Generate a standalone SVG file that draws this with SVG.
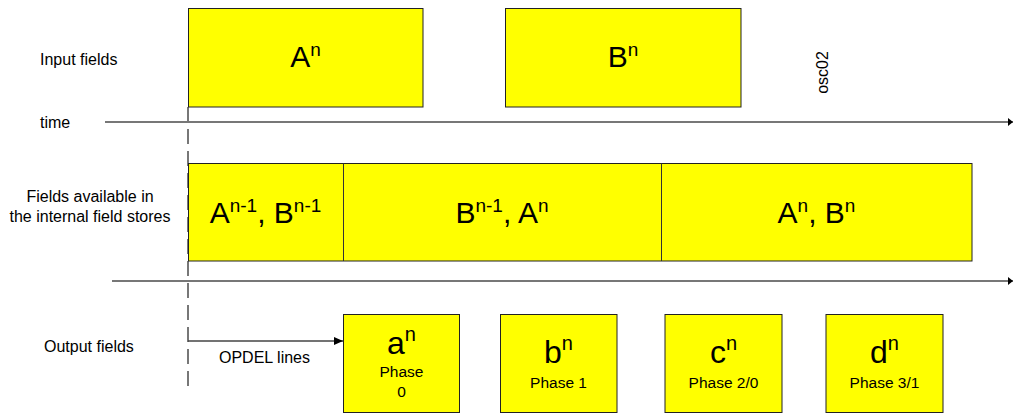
<svg xmlns="http://www.w3.org/2000/svg" width="1013" height="413" viewBox="0 0 1013 413">
<style>
.box{fill:#ffff00;stroke:#222;stroke-width:1}
.lbl{font-family:"Liberation Sans",Arial,sans-serif;font-size:16px;fill:#000}
.big{font-family:"Liberation Sans",Arial,sans-serif;font-size:30px;fill:#000;text-anchor:middle}
.out{font-family:"Liberation Sans",Arial,sans-serif;font-size:32px;fill:#000;text-anchor:middle}
.ph{font-family:"Liberation Sans",Arial,sans-serif;font-size:15.5px;fill:#000;text-anchor:middle}
.axis{stroke:#777;stroke-width:2;fill:none}
.div{stroke:#333;stroke-width:1}
</style>
<defs>
<marker id="ah" viewBox="0 0 10 10" refX="10" refY="5" markerWidth="5" markerHeight="8" markerUnits="userSpaceOnUse" orient="auto" preserveAspectRatio="none">
<path d="M0,0 L10,5 L0,10 Z" fill="#000"/>
</marker>
<marker id="ah2" viewBox="0 0 10 10" refX="10" refY="5" markerWidth="9" markerHeight="8" markerUnits="userSpaceOnUse" orient="auto" preserveAspectRatio="none">
<path d="M0,0 L10,5 L0,10 Z" fill="#000"/>
</marker>
</defs>

<g id="labels">
<text class="lbl" x="40" y="65">Input fields</text>
<text class="lbl" x="40" y="128">time</text>
<text class="lbl" x="90" y="202" text-anchor="middle">Fields available in</text>
<text class="lbl" x="90" y="222" text-anchor="middle">the internal field stores</text>
<text class="lbl" x="44" y="352">Output fields</text>
<text class="lbl" x="828" y="72.5" text-anchor="middle" font-size="15.5" transform="rotate(-90 828 72.5)">osc02</text>
</g>

<g id="connectors">
<line class="axis" x1="105" y1="122" x2="1013" y2="122" marker-end="url(#ah)"/>
<line class="axis" x1="112" y1="281" x2="1013" y2="281" stroke="#666" marker-end="url(#ah)"/>
<line x1="188" y1="107" x2="188" y2="388" stroke="#777" stroke-width="2" stroke-dasharray="15 7"/>
<line x1="188" y1="341" x2="343" y2="341" stroke="#444" stroke-width="1.5" marker-end="url(#ah2)"/>
<text class="lbl" x="219" y="363" font-size="15.5">OPDEL lines</text>
</g>

<g id="input-A">
<rect class="box" x="188.5" y="8.5" width="234.5" height="98.5"/>
<text class="big" x="305.5" y="67">A<tspan font-size="19" dy="-11">n</tspan></text>
</g>
<g id="input-B">
<rect class="box" x="505.5" y="8.5" width="235.5" height="98.5"/>
<text class="big" x="623" y="67">B<tspan font-size="19" dy="-11">n</tspan></text>
</g>

<g id="store">
<rect class="box" x="188.5" y="163.5" width="783.5" height="97.5"/>
<line class="div" x1="343.5" y1="163.5" x2="343.5" y2="261"/>
<line class="div" x1="661.5" y1="163.5" x2="661.5" y2="261"/>
<text class="big" x="265.5" y="223">A<tspan font-size="19" dy="-11">n-1</tspan><tspan dy="11">, B</tspan><tspan font-size="19" dy="-11">n-1</tspan></text>
<text class="big" x="502" y="223">B<tspan font-size="19" dy="-11">n-1</tspan><tspan dy="11">, A</tspan><tspan font-size="19" dy="-11">n</tspan></text>
<text class="big" x="816.5" y="223">A<tspan font-size="19" dy="-11">n</tspan><tspan dy="11">, B</tspan><tspan font-size="19" dy="-11">n</tspan></text>
</g>

<g id="out-a">
<rect class="box" x="343.5" y="314.5" width="116" height="98"/>
<text class="out" x="401.5" y="354">a<tspan font-size="20" dy="-13">n</tspan></text>
<text class="ph" x="401.5" y="377">Phase</text>
<text class="ph" x="401.5" y="397">0</text>
</g>
<g id="out-b">
<rect class="box" x="500.5" y="314.5" width="116.5" height="98"/>
<text class="out" x="558.5" y="363">b<tspan font-size="20" dy="-13">n</tspan></text>
<text class="ph" x="558.5" y="388">Phase 1</text>
</g>
<g id="out-c">
<rect class="box" x="665" y="314.5" width="117" height="98"/>
<text class="out" x="723.5" y="363">c<tspan font-size="20" dy="-13">n</tspan></text>
<text class="ph" x="723.5" y="388">Phase 2/0</text>
</g>
<g id="out-d">
<rect class="box" x="826" y="314.5" width="117" height="98"/>
<text class="out" x="884.5" y="363">d<tspan font-size="20" dy="-13">n</tspan></text>
<text class="ph" x="884.5" y="388">Phase 3/1</text>
</g>
</svg>
